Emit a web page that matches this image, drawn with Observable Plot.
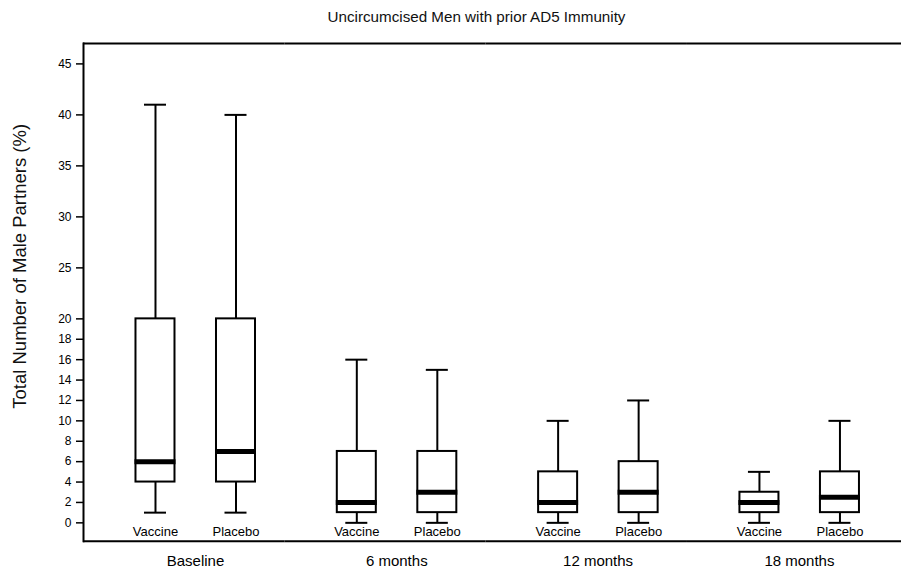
<!DOCTYPE html>
<html><head><meta charset="utf-8">
<script src="https://cdn.jsdelivr.net/npm/d3@7"></script>
<script src="https://cdn.jsdelivr.net/npm/@observablehq/plot@0.6"></script>
<style>
body{margin:0;background:#fff;font-family:"Liberation Sans",Arial,sans-serif;}
#wrap{position:relative;width:901px;height:574px;overflow:hidden;}
#title{position:absolute;top:8px;left:0;width:853px;padding-left:50px;text-align:center;font-size:15.2px;line-height:17px;color:#111;}
#chart svg{display:block;}
</style></head><body>
<div id="wrap"><div id="chart"></div><div id="title">Uncircumcised Men with prior AD5 Immunity</div></div>
<script>
const groups = ["Baseline", "6 months", "12 months", "18 months"];
const arms = ["Vaccine", "Placebo"];
// order: Baseline V, Baseline P, 6m V, 6m P, 12m V, 12m P, 18m V, 18m P
const mins    = [1, 1, 0, 0, 0, 0, 0, 0];
const q1s     = [4, 4, 1, 1, 1, 1, 1, 1];
const medians = [6, 7, 2, 3, 2, 3, 2, 2.5];
const q3s     = [20, 20, 7, 7, 5, 6, 3, 5];
const maxs    = [41, 40, 16, 15, 10, 12, 5, 10];
const yTicks = [0, 2, 4, 6, 8, 10, 12, 14, 16, 18, 20, 25, 30, 35, 40, 45];
const yDomain = [-1.8, 47];
const yLabel = "Total Number of Male Partners (%)";

const rows = [];
groups.forEach((g, i) => arms.forEach((a, j) => {
  const k = i * 2 + j;
  rows.push({group: g, arm: a, min: mins[k], q1: q1s[k], median: medians[k], q3: q3s[k], max: maxs[k]});
}));
const lastGroup = groups[groups.length - 1];
const edgeRows = groups.flatMap(g => yDomain.map(v => ({group: g, y: v})));

const chart = Plot.plot({
  width: 901,
  height: 574,
  marginLeft: 83,
  marginRight: 0,
  marginTop: 43,
  marginBottom: 33.3,
  style: {fontFamily: "'Liberation Sans', Arial, sans-serif", fontSize: "12px", color: "#000", background: "#fff"},
  fx: {domain: groups, paddingInner: 0, paddingOuter: 0.0316, align: 0, round: false},
  x: {domain: arms, paddingInner: 0.5155, paddingOuter: 0.508, align: 0.6416, round: false},
  y: {domain: yDomain},
  marks: [
    Plot.ruleY(edgeRows.filter(d => d.group !== lastGroup), {fx: "group", y: "y", stroke: "#000", strokeWidth: 2}),
    Plot.ruleY(edgeRows.filter(d => d.group === lastGroup), {fx: "group", y: "y", stroke: "#000", strokeWidth: 2, insetRight: -13}),
    Plot.frame({anchor: "left", facetAnchor: "left", stroke: "#000", strokeWidth: 2}),
    Plot.ruleX(rows, {fx: "group", x: "arm", y1: "q3", y2: "max", stroke: "#000", strokeWidth: 2}),
    Plot.ruleX(rows, {fx: "group", x: "arm", y1: "min", y2: "q1", stroke: "#000", strokeWidth: 2}),
    Plot.tickY(rows, {fx: "group", x: "arm", y: "max", stroke: "#000", strokeWidth: 2, insetLeft: 8.5, insetRight: 8.5}),
    Plot.tickY(rows, {fx: "group", x: "arm", y: "min", stroke: "#000", strokeWidth: 2, insetLeft: 8.5, insetRight: 8.5}),
    Plot.barY(rows, {fx: "group", x: "arm", y1: "q1", y2: "q3", fill: "#fff", stroke: "#000", strokeWidth: 2}),
    Plot.tickY(rows, {fx: "group", x: "arm", y: "median", stroke: "#000", strokeWidth: 5, insetLeft: -1, insetRight: -1}),
    Plot.axisY({ticks: yTicks, tickFormat: d => String(d), tickSize: 7, tickPadding: 5, label: null, fontSize: 12, strokeWidth: 1.5}),
    Plot.axisX({anchor: "bottom", tickSize: 0, tickPadding: -14, label: null, fontSize: 13}),
    Plot.axisFx({anchor: "bottom", tickSize: 0, tickPadding: 14, label: null, fontSize: 15, dx: 11.3}),
    Plot.text([yLabel], {fx: () => groups[0], text: d => d, frameAnchor: "left", textAnchor: "middle", lineAnchor: "middle", rotate: -90, dx: -63, dy: -26, fontSize: 18.5, fill: "#111"})
  ]
});
document.getElementById("chart").appendChild(chart);
</script>
</body></html>
